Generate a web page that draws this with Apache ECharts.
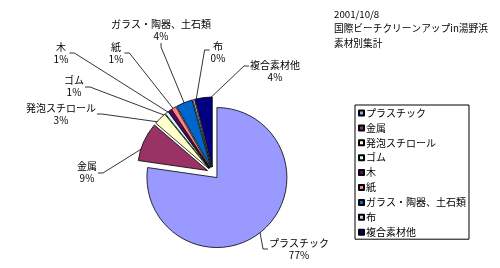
<!DOCTYPE html>
<html>
<head>
<meta charset="utf-8">
<script src="https://cdn.jsdelivr.net/npm/echarts@6/dist/echarts.min.js"></script>
<style>
  html, body { margin: 0; background: #fff; }
  #chart { width: 500px; height: 268px; }
</style>
</head>
<body>
<div id="chart"></div>
<script>
const categories = ["プラスチック", "金属", "発泡スチロール", "ゴム", "木", "紙", "ガラス・陶器、土石類", "布", "複合素材他"];
const values = [77.2, 9.0, 2.9, 0.8, 0.8, 1.1, 3.8, 0.4, 3.9];
const colors = ["#9999FF", "#993366", "#FFFFCC", "#CCFFFF", "#660066", "#FF8080", "#0066CC", "#CCCCFF", "#000080"];
const titleLines = ["2001/10/8", "国際ビーチクリーンアップin湯野浜", "素材別集計"];

// where each label sits: [centre x, centre y, side the leader line meets, y shift of that point]
const labelSpots = [
  [299, 249, "left", 0],
  [87, 172, "right", 1],
  [61, 114, "right", 0],
  [74, 86, "right", 1],
  [61, 53, "right", 0],
  [116, 53, "right", 0],
  [161, 30, "bottom", 0],
  [218, 52, "left", -2],
  [275, 71, "left", -5]
];

const font = "'Noto Sans CJK JP', 'Noto Sans', sans-serif";
const chart = echarts.init(document.getElementById("chart"), null, { renderer: "canvas" });

const PIE_CENTER = [213, 173];
const PIE_R = 70;

// exploded slices (no labels: the select state would pin labels to default spots)
const sliceData = categories.map((name, i) => ({
  name: name,
  value: values[i],
  selected: true,
  itemStyle: { color: colors[i] }
}));

// same pie, invisible, only to carry the labels and leader lines
const labelData = categories.map((name, i) => ({ name: name, value: values[i] }));

chart.setOption({
  animation: false,
  backgroundColor: "#fff",
  textStyle: { fontFamily: font },
  title: {
    text: titleLines.join("\n"),
    left: 334,
    top: 7,
    padding: 0,
    textStyle: { fontSize: 9.7, fontWeight: "normal", color: "#000", lineHeight: 14.5, fontFamily: font }
  },
  legend: {
    orient: "vertical",
    left: 355,
    top: 105,
    padding: [2, 3, 1, 3],
    borderColor: "#000",
    borderWidth: 1,
    itemWidth: 5,
    itemHeight: 5,
    itemGap: 2.9,
    icon: "rect",
    selectedMode: false,
    data: categories,
    textStyle: { fontSize: 10, color: "#000", lineHeight: 12, fontFamily: font, padding: [0, 0, 0, -3] }
  },
  series: [{
    type: "pie",
    center: PIE_CENTER,
    radius: PIE_R,
    startAngle: 90,
    clockwise: true,
    selectedMode: "multiple",
    selectedOffset: 6,
    data: sliceData,
    itemStyle: { borderColor: "#000", borderWidth: 0.8 },
    select: { itemStyle: { borderColor: "#000", borderWidth: 0.8 } },
    emphasis: { disabled: true },
    label: { show: false },
    labelLine: { show: false }
  }, {
    type: "pie",
    center: PIE_CENTER,
    radius: PIE_R,
    startAngle: 90,
    clockwise: true,
    silent: true,
    percentPrecision: 0,
    avoidLabelOverlap: false,
    minShowLabelAngle: 0,
    data: labelData,
    itemStyle: { color: "rgba(0,0,0,0)", borderWidth: 0 },
    emphasis: { disabled: true },
    label: {
      show: true,
      formatter: "{b}\n{d}%",
      fontSize: 10,
      lineHeight: 12,
      color: "#000",
      fontFamily: font,
      align: "center"
    },
    labelLine: {
      show: true,
      length: 8,
      length2: 6,
      lineStyle: { color: "#000", width: 0.8 }
    },
    labelLayout: function (params) {
      const s = labelSpots[params.dataIndex];
      const w = params.labelRect.width;
      const h = params.labelRect.height;
      const start = params.labelLinePoints ? params.labelLinePoints[0] : [s[0], s[1]];
      let end, mid;
      if (s[2] === "left") {
        end = [s[0] - w / 2 - 1, s[1] + s[3]];
        mid = [end[0] - 5, end[1]];
      } else if (s[2] === "right") {
        end = [s[0] + w / 2 + 1, s[1] + s[3]];
        mid = [end[0] + 5, end[1]];
      } else {
        end = [s[0], s[1] + h / 2 + 1];
        mid = [end[0], end[1] + 4];
      }
      return {
        x: s[0],
        y: s[1],
        align: "center",
        verticalAlign: "middle",
        labelLinePoints: [start, mid, end]
      };
    }
  }]
});
</script>
</body>
</html>
